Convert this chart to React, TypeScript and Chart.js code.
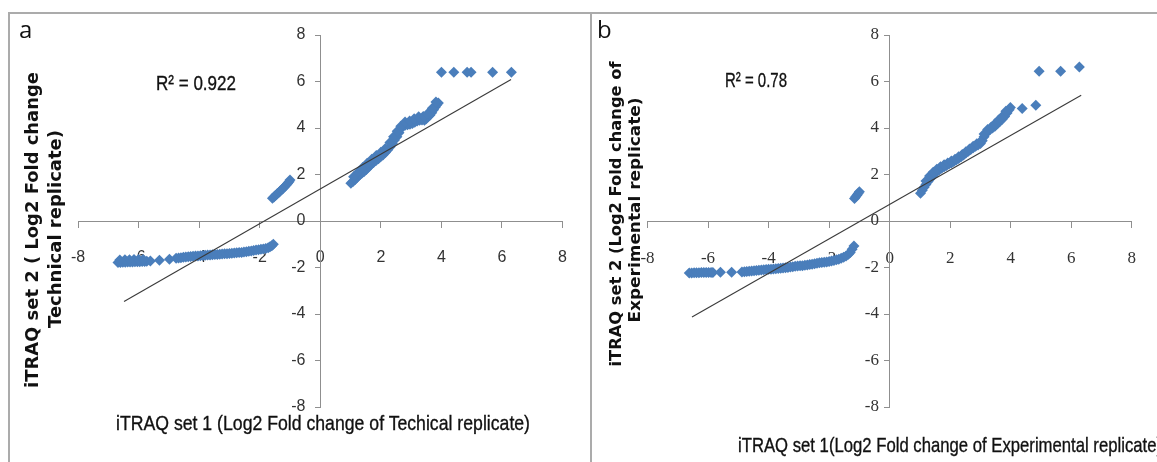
import React, { useEffect, useLayoutEffect, useRef } from "react";
import { Chart, registerables } from "chart.js";

Chart.register(...registerables);

// ---------- axis settings ----------
const AXIS_MIN = -8;
const AXIS_MAX = 8;
const AXIS_STEP = 2;

// ---------- panel a (technical replicate) ----------
const aLowX = [-6.68, -6.6, -6.52, -6.44, -6.36, -6.28, -6.2, -6.12, -6.04, -5.96, -5.88, -5.8, -5.73, -5.61, -5.31, -4.98, -4.76, -4.68, -4.6, -4.52, -4.44, -4.36, -4.28, -4.2, -4.12, -4.04, -3.96, -3.88, -3.8, -3.72, -3.64, -3.56, -3.48, -3.4, -3.32, -3.24, -3.16, -3.08, -3.0, -2.92, -2.84, -2.76, -2.68, -2.6, -2.52, -2.44, -2.36, -2.28, -2.2, -2.12, -2.04, -1.96, -1.88, -1.8, -1.72, -1.66, -1.6, -1.55];
const aLowY = [-1.78, -1.78, -1.77, -1.77, -1.76, -1.76, -1.76, -1.75, -1.75, -1.75, -1.74, -1.74, -1.73, -1.72, -1.69, -1.64, -1.6, -1.59, -1.58, -1.56, -1.55, -1.54, -1.53, -1.52, -1.51, -1.5, -1.49, -1.48, -1.47, -1.46, -1.46, -1.45, -1.44, -1.44, -1.43, -1.42, -1.41, -1.41, -1.4, -1.39, -1.38, -1.37, -1.36, -1.35, -1.33, -1.32, -1.3, -1.29, -1.27, -1.25, -1.24, -1.22, -1.2, -1.18, -1.15, -1.11, -1.06, -1.0];
const aLowEdgeX = [-6.62, -6.45, -6.3, -6.15, -6.0, -5.85];
const aLowEdgeY = [-1.68, -1.67, -1.67, -1.66, -1.66, -1.66];
const aMidX = [-1.58, -1.53, -1.48, -1.43, -1.38, -1.33, -1.28, -1.23, -1.18, -1.13, -1.08, -1.03, -1.0];
const aMidY = [0.98, 1.03, 1.1, 1.16, 1.22, 1.28, 1.34, 1.4, 1.47, 1.54, 1.61, 1.69, 1.76];
const aHighX = [1.01, 1.08, 1.15, 1.22, 1.3, 1.37, 1.44, 1.52, 1.6, 1.68, 1.76, 1.84, 1.92, 1.99, 2.07, 2.15, 2.23, 2.31, 2.38, 2.45, 2.53, 2.6, 2.66, 2.72, 2.8, 2.88, 2.96, 3.04, 3.12, 3.2, 3.28, 3.36, 3.44, 3.5, 3.56, 3.62, 3.68, 3.74, 3.8, 3.85, 3.9];
const aHighY = [1.62, 1.7, 1.79, 1.88, 1.98, 2.05, 2.12, 2.22, 2.32, 2.43, 2.52, 2.6, 2.68, 2.76, 2.84, 2.95, 3.06, 3.19, 3.33, 3.48, 3.62, 3.8, 3.97, 4.08, 4.12, 4.14, 4.16, 4.19, 4.25, 4.3, 4.33, 4.34, 4.33, 4.4, 4.48, 4.55, 4.66, 4.78, 4.9, 5.0, 5.07];
const aHighEdgeX = [1.1, 1.25, 1.4, 1.55, 1.7, 1.85, 2.0, 2.15, 2.3, 2.42, 2.54, 2.66, 2.8, 2.95, 3.1, 3.25, 3.4, 3.55, 3.7, 3.82];
const aHighEdgeY = [1.9, 2.1, 2.3, 2.48, 2.66, 2.82, 2.96, 3.12, 3.38, 3.62, 3.86, 4.08, 4.26, 4.3, 4.4, 4.48, 4.5, 4.62, 4.85, 5.12];
const aTopX = [4.0, 4.41, 4.85, 4.98, 5.69, 6.31];
const aTopY = [6.4, 6.4, 6.4, 6.4, 6.4, 6.4];
const aTrendX = [-6.48, 6.3];
const aTrendY = [-3.46, 6.09];

// ---------- panel b (experimental replicate) ----------
const bLowX = [-6.62, -6.54, -6.46, -6.38, -6.3, -6.22, -6.14, -6.06, -5.98, -5.9, -5.84, -5.59, -5.22, -4.88, -4.8, -4.72, -4.64, -4.56, -4.48, -4.4, -4.32, -4.24, -4.16, -4.08, -4.0, -3.92, -3.84, -3.76, -3.68, -3.6, -3.52, -3.44, -3.36, -3.28, -3.2, -3.12, -3.04, -2.96, -2.88, -2.8, -2.72, -2.64, -2.56, -2.48, -2.4, -2.32, -2.24, -2.16, -2.08, -2.0, -1.92, -1.84, -1.76, -1.68, -1.6, -1.52, -1.44, -1.36, -1.3, -1.24, -1.18];
const bLowY = [-2.24, -2.24, -2.23, -2.23, -2.23, -2.22, -2.22, -2.22, -2.22, -2.21, -2.21, -2.2, -2.2, -2.19, -2.18, -2.17, -2.16, -2.15, -2.14, -2.13, -2.12, -2.11, -2.1, -2.09, -2.08, -2.07, -2.06, -2.05, -2.04, -2.03, -2.02, -2.01, -2.0, -1.98, -1.97, -1.95, -1.94, -1.93, -1.92, -1.9, -1.89, -1.87, -1.86, -1.84, -1.82, -1.8, -1.79, -1.77, -1.76, -1.74, -1.72, -1.7, -1.67, -1.64, -1.6, -1.56, -1.5, -1.43, -1.36, -1.22, -1.08];
const bMidX = [-1.16, -1.12, -1.08, -1.04, -1.0];
const bMidY = [0.97, 1.04, 1.11, 1.18, 1.26];
const bHighX = [1.02, 1.08, 1.14, 1.2, 1.27, 1.34, 1.41, 1.48, 1.56, 1.64, 1.72, 1.8, 1.88, 1.96, 2.04, 2.12, 2.2, 2.28, 2.36, 2.44, 2.52, 2.6, 2.68, 2.76, 2.84, 2.92, 3.0, 3.06, 3.12, 3.18, 3.25, 3.32, 3.4, 3.48, 3.56, 3.64, 3.72, 3.8, 3.88, 3.95, 3.99];
const bHighY = [1.19, 1.32, 1.45, 1.57, 1.7, 1.82, 1.93, 2.03, 2.12, 2.2, 2.27, 2.33, 2.39, 2.45, 2.5, 2.56, 2.62, 2.69, 2.76, 2.84, 2.92, 3.0, 3.08, 3.15, 3.21, 3.27, 3.33, 3.45, 3.62, 3.76, 3.86, 3.94, 4.0, 4.08, 4.18, 4.28, 4.38, 4.5, 4.64, 4.78, 4.88];
const bHighEdgeX = [1.2, 1.32, 1.44, 1.56, 1.68, 1.8, 1.92, 2.04, 2.16, 2.28, 2.4, 2.52, 2.64, 2.76, 2.88, 3.0, 3.12, 3.24, 3.36, 3.48, 3.6, 3.72, 3.84];
const bHighEdgeY = [1.72, 1.94, 2.1, 2.23, 2.33, 2.42, 2.5, 2.58, 2.66, 2.76, 2.86, 2.98, 3.1, 3.22, 3.32, 3.42, 3.74, 3.94, 4.04, 4.18, 4.34, 4.5, 4.72];
const bTopX = [4.38, 4.83, 4.94, 5.65, 6.27];
const bTopY = [4.84, 4.98, 6.44, 6.44, 6.62];
const bTrendX = [-6.53, 6.33];
const bTrendY = [-4.13, 5.41];

// ---------- texts ----------
const aLetter = "a";
const bLetter = "b";
const aR2 = "R\u00B2 = 0.922";
const bR2 = "R\u00B2 = 0.78";
const aXTitle = "iTRAQ set 1 (Log2 Fold change of Techical replicate)";
const bXTitle = "iTRAQ set 1(Log2 Fold change of Experimental replicate)";
const aYTitle = ["iTRAQ set 2 ( Log2 Fold change", "Technical replicate)"];
const bYTitle = ["iTRAQ set 2 (Log2 Fold change of", "Experimental replicate)"];

const BLUE = "#4A7EBB";
const AXIS_COLOR = "#8f8f8f";
const FRAME_COLOR = "#ababab";

type Pad = { left: number; right: number; top: number; bottom: number };

function toPoints(xs: number[], ys: number[]) {
  return xs.map((x, i) => ({ x, y: ys[i] }));
}

function buildConfig(
  clusters: [number[], number[]][],
  trendX: number[],
  trendY: number[],
  padding: Pad,
  tickFont: { family: string; size: number },
  yLabelAt: number
): any {
  const pts = clusters.flatMap(([xs, ys]) => toPoints(xs, ys));
  return {
    type: "scatter",
    data: {
      datasets: [
        {
          type: "line",
          data: toPoints(trendX, trendY),
          borderColor: "#3a3a3a",
          borderWidth: 1.1,
          pointRadius: 0,
          showLine: true,
          fill: false,
          order: 0,
          xAxisID: "x",
          yAxisID: "y",
        },
        {
          data: pts,
          pointStyle: "rectRot",
          pointRadius: 5.5,
          backgroundColor: BLUE,
          borderWidth: 0,
          order: 1,
          xAxisID: "x",
          yAxisID: "y",
        },
      ],
    },
    options: {
      responsive: false,
      animation: false,
      devicePixelRatio: 1,
      layout: { padding },
      plugins: { legend: { display: false }, tooltip: { enabled: false } },
      scales: {
        x: {
          type: "linear",
          axis: "x",
          position: { y: 0 },
          min: AXIS_MIN,
          max: AXIS_MAX,
          ticks: { stepSize: AXIS_STEP, font: tickFont, color: "#333333", padding: 21, maxRotation: 0 },
          grid: { drawOnChartArea: false, drawTicks: true, tickLength: 6, color: AXIS_COLOR },
          border: { color: AXIS_COLOR, width: 1 },
        },
        y: {
          type: "linear",
          axis: "y",
          position: { x: 0 },
          min: AXIS_MIN,
          max: AXIS_MAX,
          ticks: { stepSize: AXIS_STEP, display: false },
          grid: { drawOnChartArea: false, drawTicks: true, tickLength: 5, color: AXIS_COLOR },
          border: { color: AXIS_COLOR, width: 1 },
        },
        yLabels: {
          type: "linear",
          axis: "y",
          position: { x: yLabelAt },
          min: AXIS_MIN,
          max: AXIS_MAX,
          ticks: { stepSize: AXIS_STEP, font: tickFont, color: "#333333", padding: 0 },
          grid: { display: false },
          border: { display: false },
        },
      },
    },
  };
}

function ChartCanvas(props: { config: () => any; left: number; top: number; width: number; height: number }) {
  const ref = useRef<HTMLCanvasElement>(null);
  useEffect(() => {
    if (!ref.current) return;
    const chart = new Chart(ref.current, props.config());
    return () => chart.destroy();
  }, []);
  return (
    <canvas
      ref={ref}
      width={props.width}
      height={props.height}
      style={{ position: "absolute", left: props.left, top: props.top, width: props.width, height: props.height, display: "block" }}
    />
  );
}

function FitText(props: {
  text: string;
  width: number;
  x: number;
  y: number;
  rotate?: boolean;
  style: React.CSSProperties;
}) {
  const ref = useRef<HTMLSpanElement>(null);
  useLayoutEffect(() => {
    const el = ref.current;
    if (!el) return;
    const w = el.getBoundingClientRect().width;
    const s = props.width / w;
    el.style.transform = props.rotate
      ? `translate(-50%, -50%) rotate(-90deg) scaleX(${s})`
      : `translateY(-50%) scaleX(${s})`;
    el.style.visibility = "visible";
  }, []);
  return (
    <span
      ref={ref}
      style={{
        position: "absolute",
        left: props.x,
        top: props.y,
        whiteSpace: "nowrap",
        lineHeight: 1,
        visibility: "hidden",
        transformOrigin: props.rotate ? "50% 50%" : "0% 50%",
        ...props.style,
      }}
    >
      {props.text}
    </span>
  );
}

const narrow = '"Liberation Sans Narrow", "Liberation Sans", Arial, sans-serif';
const titleStyle: React.CSSProperties = { fontFamily: narrow, fontSize: 21, color: "#111", WebkitTextStroke: "0.35px #111" } as any;
const yTitleStyleA: React.CSSProperties = { fontFamily: '"DejaVu Sans", Verdana, sans-serif', fontWeight: "bold", fontSize: 17, color: "#111" };
const yTitleStyleB: React.CSSProperties = { ...yTitleStyleA, fontSize: 16 };
const letterStyle: React.CSSProperties = { position: "absolute", fontFamily: '"Open Sans", "Liberation Sans", sans-serif', fontSize: 24, lineHeight: "24px", color: "#111" };

export default function App() {
  const configA = () =>
    buildConfig(
      [[aLowX, aLowY], [aLowEdgeX, aLowEdgeY], [aMidX, aMidY], [aHighX, aHighY], [aHighEdgeX, aHighEdgeY], [aTopX, aTopY]],
      aTrendX,
      aTrendY,
      { left: 68, right: 20.5, top: 21, bottom: 55 },
      { family: narrow, size: 16 },
      -0.49
    );
  const configB = () =>
    buildConfig(
      [[bLowX, bLowY], [bMidX, bMidY], [bHighX, bHighY], [bHighEdgeX, bHighEdgeY], [bTopX, bTopY]],
      bTrendX,
      bTrendY,
      { left: 55.5, right: 9.5, top: 21, bottom: 55 },
      { family: '"Liberation Serif", "Times New Roman", serif', size: 17 },
      -0.35
    );

  return (
    <div style={{ position: "absolute", left: 0, top: 0, width: 1157, height: 462, overflow: "hidden", background: "#fff" }}>
      <div style={{ position: "absolute", left: 8, top: 12, width: 580, height: 450, borderTop: `2px solid ${FRAME_COLOR}`, borderLeft: `2px solid ${FRAME_COLOR}` }} />
      <div style={{ position: "absolute", left: 590, top: 12, width: 567, height: 450, borderTop: `2px solid ${FRAME_COLOR}`, borderLeft: `2px solid ${FRAME_COLOR}` }} />

      <ChartCanvas config={configA} left={10} top={14} width={578} height={448} />
      <ChartCanvas config={configB} left={592} top={14} width={565} height={448} />

      <span style={{ ...letterStyle, left: 19, top: 17 }}>{aLetter}</span>
      <span style={{ ...letterStyle, left: 597, top: 17 }}>{bLetter}</span>

      <FitText text={aR2} width={80} x={156} y={82} style={titleStyle} />
      <FitText text={bR2} width={62} x={725} y={79} style={titleStyle} />

      <FitText text={aXTitle} width={414} x={116} y={422} style={titleStyle} />
      <FitText text={bXTitle} width={424} x={738} y={444} style={titleStyle} />

      <FitText text={aYTitle[0]} width={316} x={32} y={230} rotate style={yTitleStyleA} />
      <FitText text={aYTitle[1]} width={198} x={55} y={229} rotate style={yTitleStyleA} />
      <FitText text={bYTitle[0]} width={305} x={616} y={214} rotate style={yTitleStyleB} />
      <FitText text={bYTitle[1]} width={225} x={635} y={210} rotate style={yTitleStyleB} />
    </div>
  );
}
